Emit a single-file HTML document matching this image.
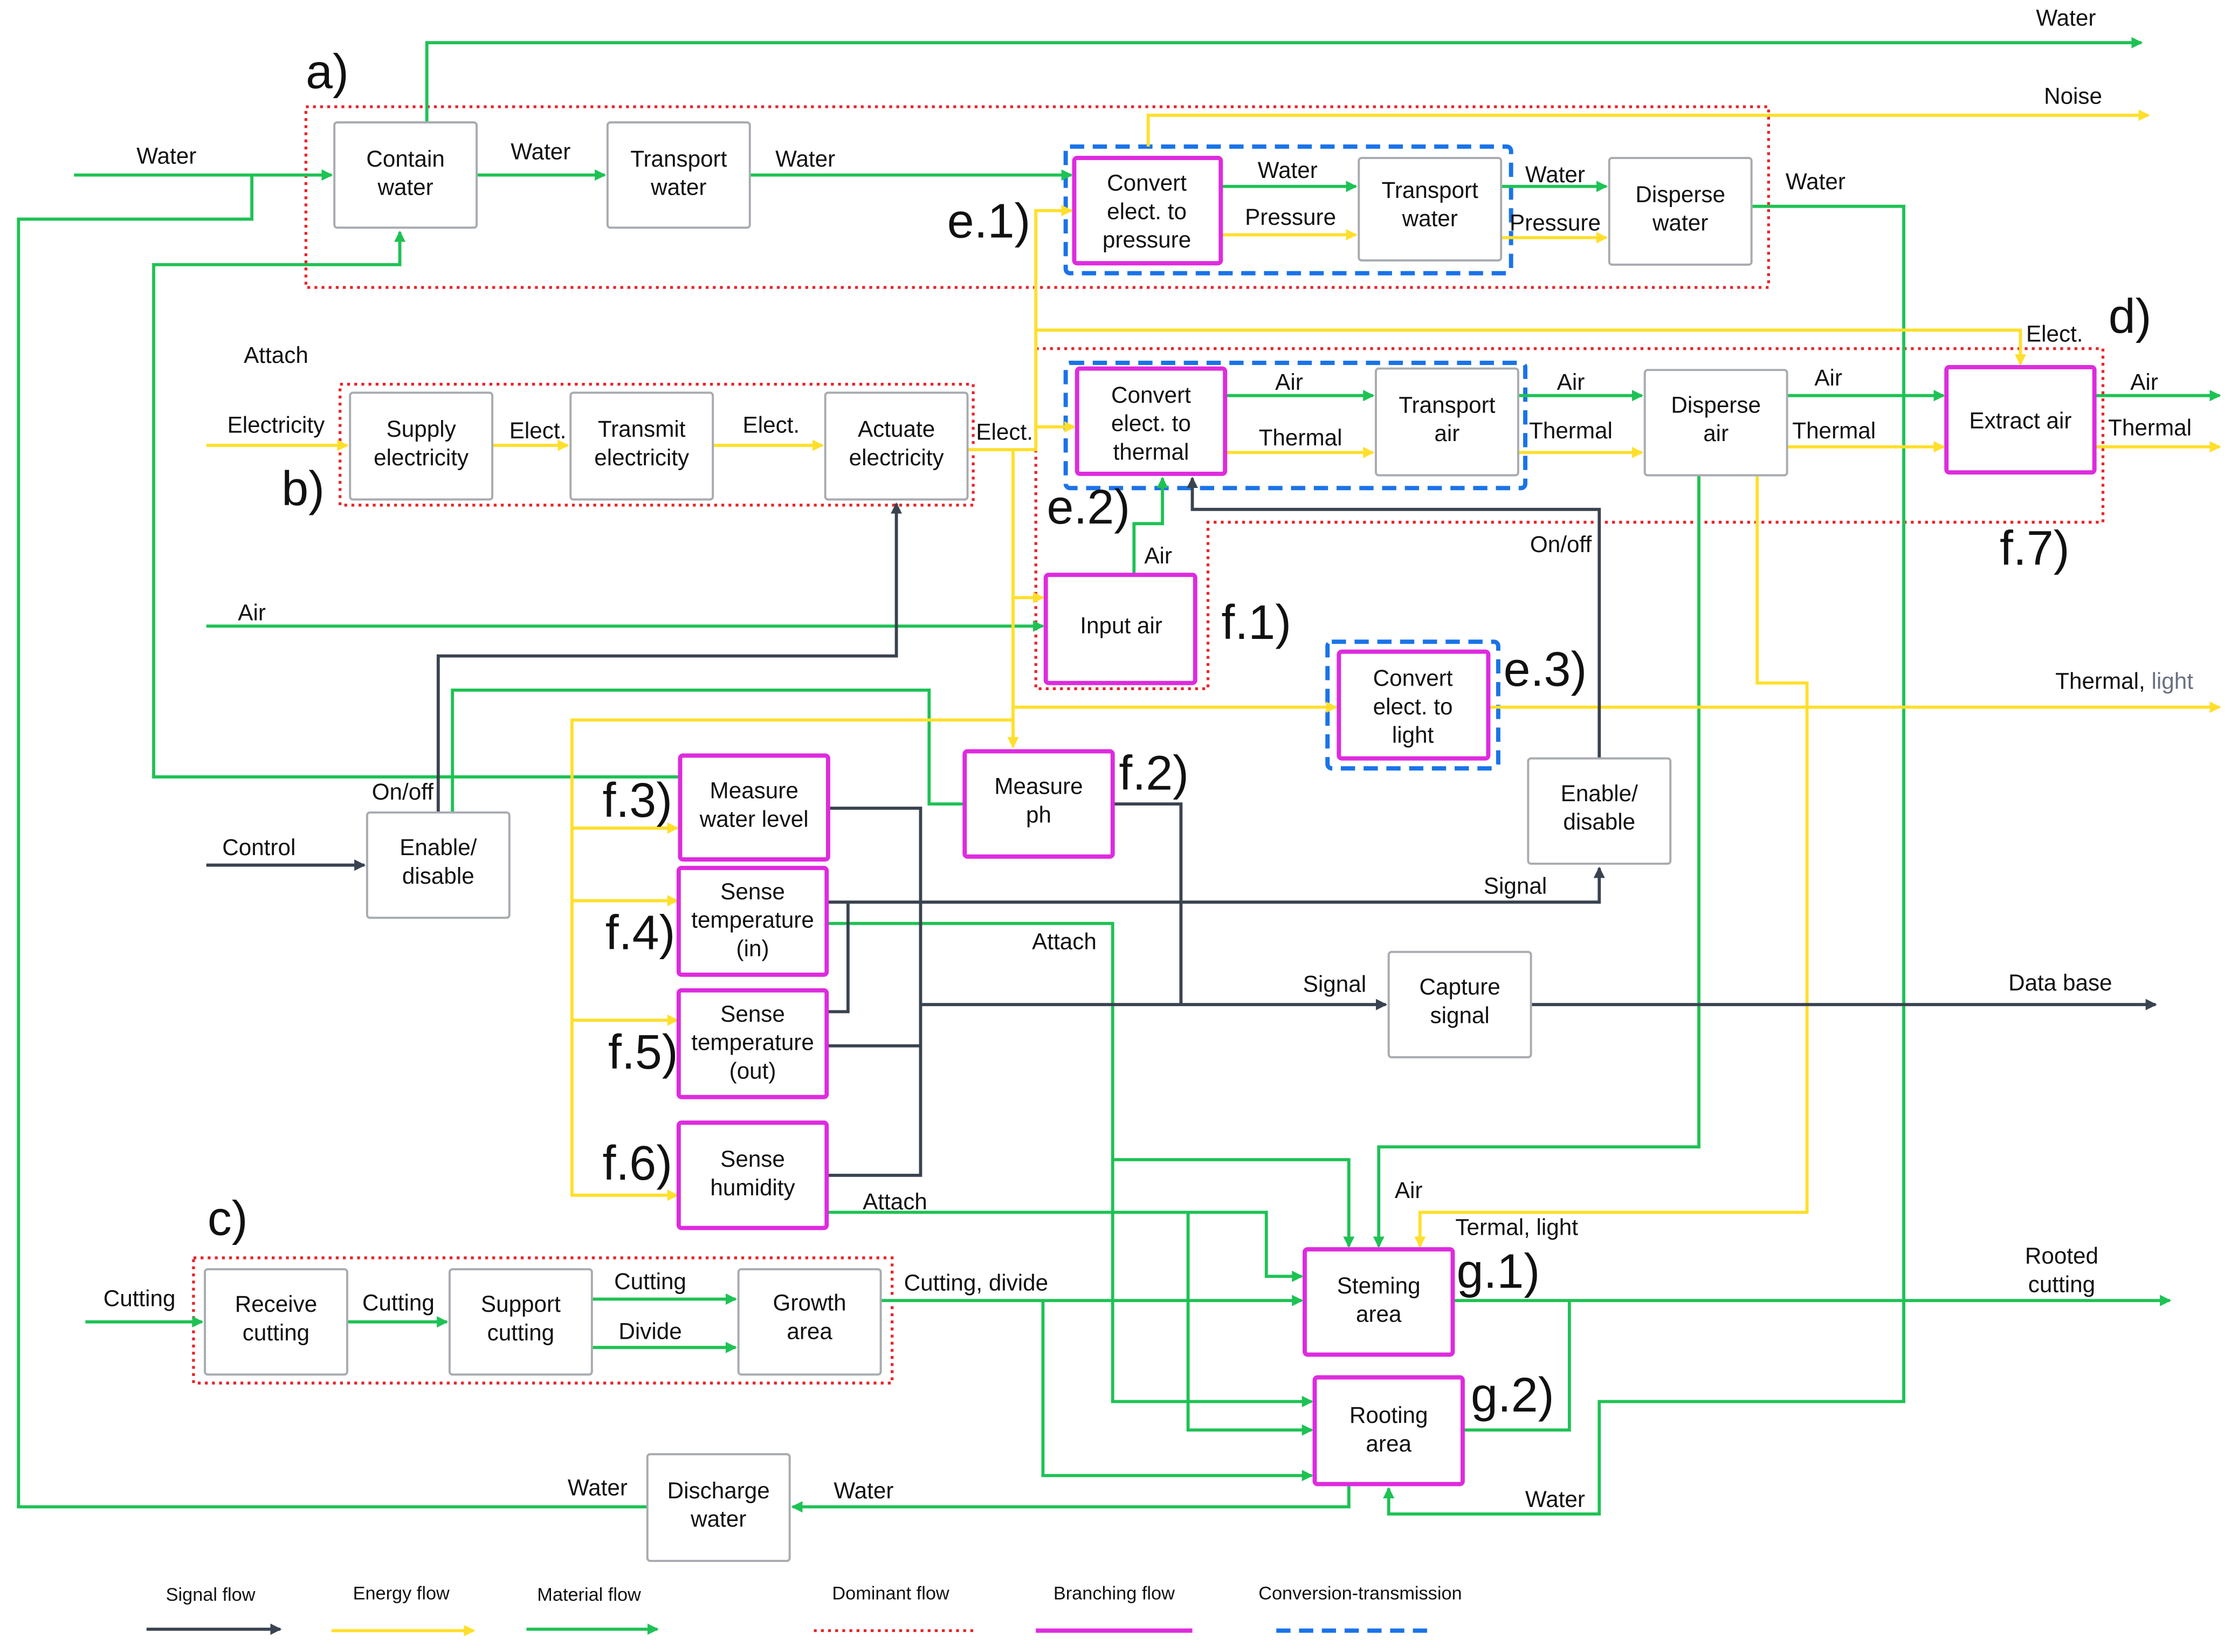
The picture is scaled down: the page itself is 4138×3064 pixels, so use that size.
<!DOCTYPE html>
<html><head><meta charset="utf-8"><style>html,body{margin:0;padding:0;background:#fff}svg{display:block}</style></head><body>
<svg width="4138" height="3064" viewBox="0 0 1568 1161" xmlns="http://www.w3.org/2000/svg" font-family="Liberation Sans, sans-serif">
<defs>
<marker id="ag" markerWidth="8" markerHeight="8" refX="7" refY="4" orient="auto" markerUnits="userSpaceOnUse"><path d="M0,0L8,4L0,8z" fill="#1ec254"/></marker>
<marker id="ay" markerWidth="8" markerHeight="8" refX="7" refY="4" orient="auto" markerUnits="userSpaceOnUse"><path d="M0,0L8,4L0,8z" fill="#ffdf2b"/></marker>
<marker id="ad" markerWidth="8" markerHeight="8" refX="7" refY="4" orient="auto" markerUnits="userSpaceOnUse"><path d="M0,0L8,4L0,8z" fill="#3a4350"/></marker>
</defs>
<rect width="1568" height="1161" fill="#fff"/>
<!-- dotted regions -->
<g fill="none" stroke="#e8242a" stroke-width="2" stroke-dasharray="2,3">
<rect x="215" y="75" width="1028" height="127"/>
<rect x="239" y="270" width="445" height="85"/>
<path d="M728,245H1478V367H849V484H728Z"/>
<rect x="136" y="884" width="491" height="88"/>
</g>
<g fill="none" stroke="#1a73e8" stroke-width="3" stroke-dasharray="10,6">
<rect x="749" y="103" width="313" height="89" rx="3"/>
<rect x="749" y="255" width="323" height="88" rx="3"/>
<rect x="933" y="451" width="120" height="89" rx="3"/>
</g>
<!-- green lines -->
<g fill="none" stroke="#1ec254" stroke-width="2.2">
<path d="M52,123H233" marker-end="url(#ag)"/>
<path d="M177,123V154H13V1059H455"/>
<path d="M300,86V30H1505" marker-end="url(#ag)"/>
<path d="M335,123H425" marker-end="url(#ag)"/>
<path d="M527,123H753" marker-end="url(#ag)"/>
<path d="M858,131H953" marker-end="url(#ag)"/>
<path d="M1055,131H1129" marker-end="url(#ag)"/>
<path d="M1231,145H1338V985H1124V1064H976V1046" marker-end="url(#ag)"/>
<path d="M478,546H108V186H281V163" marker-end="url(#ag)"/>
<path d="M318,571V485H653V565H678"/>
<path d="M145,440H733" marker-end="url(#ag)"/>
<path d="M797,404V368H817V336" marker-end="url(#ag)"/>
<path d="M861,278H965" marker-end="url(#ag)"/>
<path d="M1067,278H1154" marker-end="url(#ag)"/>
<path d="M1256,278H1366" marker-end="url(#ag)"/>
<path d="M1472,278H1560" marker-end="url(#ag)"/>
<path d="M1194,334V806H969V876" marker-end="url(#ag)"/>
<path d="M581,649H782V815H948V876" marker-end="url(#ag)"/>
<path d="M782,815V985H922" marker-end="url(#ag)"/>
<path d="M581,852H890V897H915" marker-end="url(#ag)"/>
<path d="M835,852V1005H922" marker-end="url(#ag)"/>
<path d="M60,929H142" marker-end="url(#ag)"/>
<path d="M244,929H314" marker-end="url(#ag)"/>
<path d="M416,913H517" marker-end="url(#ag)"/>
<path d="M416,947H517" marker-end="url(#ag)"/>
<path d="M619,914H915" marker-end="url(#ag)"/>
<path d="M733,914V1037H922" marker-end="url(#ag)"/>
<path d="M1021,914H1525" marker-end="url(#ag)"/>
<path d="M1103,914V1005H1028"/>
<path d="M948,1043V1059H557" marker-end="url(#ag)"/>
</g>
<!-- yellow -->
<g fill="none" stroke="#ffdf2b" stroke-width="2.2">
<path d="M807,103V81H1510" marker-end="url(#ay)"/>
<path d="M858,165H953" marker-end="url(#ay)"/>
<path d="M1055,167H1129" marker-end="url(#ay)"/>
<path d="M145,313H244" marker-end="url(#ay)"/>
<path d="M346,313H399" marker-end="url(#ay)"/>
<path d="M501,313H578" marker-end="url(#ay)"/>
<path d="M680,316H728V300H755" marker-end="url(#ay)"/>
<path d="M728,300V148H753" marker-end="url(#ay)"/>
<path d="M728,232H1420V256" marker-end="url(#ay)"/>
<path d="M712,316V525" marker-end="url(#ay)"/>
<path d="M712,420H733" marker-end="url(#ay)"/>
<path d="M712,497H939" marker-end="url(#ay)"/>
<path d="M1046,497H1560" marker-end="url(#ay)"/>
<path d="M861,318H965" marker-end="url(#ay)"/>
<path d="M1067,318H1154" marker-end="url(#ay)"/>
<path d="M1256,314H1366" marker-end="url(#ay)"/>
<path d="M1472,314H1560" marker-end="url(#ay)"/>
<path d="M1235,334V480H1270V852H998V876" marker-end="url(#ay)"/>
<path d="M712,506H402V840H476" marker-end="url(#ay)"/>
<path d="M402,582H476" marker-end="url(#ay)"/>
<path d="M402,633H476" marker-end="url(#ay)"/>
<path d="M402,717H476" marker-end="url(#ay)"/>
</g>
<!-- dark -->
<g fill="none" stroke="#3a4350" stroke-width="2.2">
<path d="M145,608H256" marker-end="url(#ad)"/>
<path d="M308,571V461H630V354" marker-end="url(#ad)"/>
<path d="M1124,533V358H838V336" marker-end="url(#ad)"/>
<path d="M582,568H647V826H581"/>
<path d="M647,706H974" marker-end="url(#ad)"/>
<path d="M782,565H830V706"/>
<path d="M581,735H647"/>
<path d="M581,634H1124V610" marker-end="url(#ad)"/>
<path d="M596,634V711H581"/>
<path d="M1076,706H1515" marker-end="url(#ad)"/>
</g>
<!-- boxes -->
<g fill="#fff" stroke="#a8abb0" stroke-width="1.5">
<rect x="235" y="86" width="100" height="74" rx="2"/>
<rect x="427" y="86" width="100" height="74" rx="2"/>
<rect x="955" y="111" width="100" height="72" rx="2"/>
<rect x="1131" y="111" width="100" height="75" rx="2"/>
<rect x="246" y="276" width="100" height="75" rx="2"/>
<rect x="401" y="276" width="100" height="75" rx="2"/>
<rect x="580" y="276" width="100" height="75" rx="2"/>
<rect x="967" y="259" width="100" height="75" rx="2"/>
<rect x="1156" y="260" width="100" height="74" rx="2"/>
<rect x="1074" y="533" width="100" height="74" rx="2"/>
<rect x="258" y="571" width="100" height="74" rx="2"/>
<rect x="976" y="669" width="100" height="74" rx="2"/>
<rect x="144" y="892" width="100" height="74" rx="2"/>
<rect x="316" y="892" width="100" height="74" rx="2"/>
<rect x="519" y="892" width="100" height="74" rx="2"/>
<rect x="455" y="1022" width="100" height="75" rx="2"/>
</g>
<g fill="#fff" stroke="#de2bde" stroke-width="3">
<rect x="755" y="111" width="103" height="74" rx="2"/>
<rect x="757" y="259" width="104" height="74" rx="2"/>
<rect x="1368" y="258" width="104" height="74" rx="2"/>
<rect x="735" y="404" width="105" height="76" rx="2"/>
<rect x="941" y="458" width="105" height="75" rx="2"/>
<rect x="678" y="528" width="104" height="74" rx="2"/>
<rect x="478" y="531" width="104" height="73" rx="2"/>
<rect x="477" y="610" width="104" height="75" rx="2"/>
<rect x="477" y="696" width="104" height="75" rx="2"/>
<rect x="477" y="789" width="104" height="74" rx="2"/>
<rect x="917" y="878" width="104" height="74" rx="2"/>
<rect x="924" y="968" width="104" height="75" rx="2"/>
</g>
<!-- box text -->
<g font-size="16" fill="#111" text-anchor="middle">
<text x="285" y="117">Contain</text><text x="285" y="137">water</text>
<text x="477" y="117">Transport</text><text x="477" y="137">water</text>
<text x="806" y="134">Convert</text><text x="806" y="154">elect. to</text><text x="806" y="174">pressure</text>
<text x="1005" y="139">Transport</text><text x="1005" y="159">water</text>
<text x="1181" y="142">Disperse</text><text x="1181" y="162">water</text>
<text x="296" y="307">Supply</text><text x="296" y="327">electricity</text>
<text x="451" y="307">Transmit</text><text x="451" y="327">electricity</text>
<text x="630" y="307">Actuate</text><text x="630" y="327">electricity</text>
<text x="809" y="283">Convert</text><text x="809" y="303">elect. to</text><text x="809" y="323">thermal</text>
<text x="1017" y="290">Transport</text><text x="1017" y="310">air</text>
<text x="1206" y="290">Disperse</text><text x="1206" y="310">air</text>
<text x="1420" y="301">Extract air</text>
<text x="788" y="445">Input air</text>
<text x="993" y="482">Convert</text><text x="993" y="502">elect. to</text><text x="993" y="522">light</text>
<text x="1124" y="563">Enable/</text><text x="1124" y="583">disable</text>
<text x="730" y="558">Measure</text><text x="730" y="578">ph</text>
<text x="530" y="561">Measure</text><text x="530" y="581">water level</text>
<text x="529" y="632">Sense</text><text x="529" y="652">temperature</text><text x="529" y="672">(in)</text>
<text x="529" y="718">Sense</text><text x="529" y="738">temperature</text><text x="529" y="758">(out)</text>
<text x="529" y="820">Sense</text><text x="529" y="840">humidity</text>
<text x="308" y="601">Enable/</text><text x="308" y="621">disable</text>
<text x="1026" y="699">Capture</text><text x="1026" y="719">signal</text>
<text x="194" y="922">Receive</text><text x="194" y="942">cutting</text>
<text x="366" y="922">Support</text><text x="366" y="942">cutting</text>
<text x="569" y="921">Growth</text><text x="569" y="941">area</text>
<text x="969" y="909">Steming</text><text x="969" y="929">area</text>
<text x="976" y="1000">Rooting</text><text x="976" y="1020">area</text>
<text x="505" y="1053">Discharge</text><text x="505" y="1073">water</text>
</g>
<!-- flow labels -->
<g font-size="16" fill="#111" text-anchor="middle">
<text x="1452" y="18">Water</text><text x="1457" y="73">Noise</text>
<text x="117" y="115">Water</text><text x="380" y="112">Water</text><text x="566" y="117">Water</text>
<text x="905" y="125">Water</text><text x="907" y="158">Pressure</text>
<text x="1093" y="128">Water</text><text x="1093" y="162">Pressure</text><text x="1276" y="133">Water</text>
<text x="194" y="255">Attach</text><text x="194" y="304">Electricity</text>
<text x="378" y="308">Elect.</text><text x="542" y="304">Elect.</text><text x="706" y="309">Elect.</text>
<text x="1444" y="240">Elect.</text>
<text x="906" y="274">Air</text><text x="914" y="313">Thermal</text>
<text x="1104" y="274">Air</text><text x="1104" y="308">Thermal</text>
<text x="1285" y="271">Air</text><text x="1289" y="308">Thermal</text>
<text x="1507" y="274">Air</text><text x="1511" y="306">Thermal</text>
<text x="814" y="396">Air</text><text x="1097" y="388">On/off</text>
<text x="177" y="436">Air</text>
<text x="1493" y="484">Thermal, <tspan fill="#6a7080">light</tspan></text>
<text x="283" y="562">On/off</text><text x="182" y="601">Control</text>
<text x="1065" y="628">Signal</text><text x="748" y="667">Attach</text>
<text x="938" y="697">Signal</text><text x="1448" y="696">Data base</text>
<text x="629" y="850">Attach</text><text x="990" y="842">Air</text><text x="1066" y="868">Termal, light</text>
<text x="98" y="918">Cutting</text><text x="280" y="921">Cutting</text>
<text x="457" y="906">Cutting</text><text x="457" y="941">Divide</text>
<text x="686" y="907">Cutting, divide</text>
<text x="1449" y="888">Rooted</text><text x="1449" y="908">cutting</text>
<text x="420" y="1051">Water</text><text x="607" y="1053">Water</text><text x="1093" y="1059">Water</text>
</g>
<!-- big labels -->
<g font-size="34" fill="#111" text-anchor="middle">
<text x="230" y="62">a)</text><text x="213" y="355">b)</text><text x="160" y="868">c)</text>
<text x="1497" y="234">d)</text><text x="695" y="167">e.1)</text><text x="765" y="368">e.2)</text>
<text x="1086" y="482">e.3)</text><text x="883" y="449">f.1)</text><text x="811" y="555">f.2)</text>
<text x="448" y="574">f.3)</text><text x="450" y="667">f.4)</text><text x="452" y="751">f.5)</text>
<text x="448" y="829">f.6)</text><text x="1430" y="397">f.7)</text>
<text x="1053" y="905">g.1)</text><text x="1063" y="992">g.2)</text>
</g>
<!-- legend -->
<g font-size="13" fill="#111" text-anchor="middle">
<text x="148" y="1125">Signal flow</text><text x="282" y="1124">Energy flow</text>
<text x="414" y="1125">Material flow</text><text x="626" y="1124">Dominant flow</text>
<text x="783" y="1124">Branching flow</text><text x="956" y="1124">Conversion-transmission</text>
</g>
<path d="M103,1145H197" stroke="#3a4350" stroke-width="2.2" marker-end="url(#ad)"/>
<path d="M233,1146H333" stroke="#ffdf2b" stroke-width="2.2" marker-end="url(#ay)"/>
<path d="M370,1145H462" stroke="#1ec254" stroke-width="2.2" marker-end="url(#ag)"/>
<path d="M572,1146H684" stroke="#e8242a" stroke-width="2" stroke-dasharray="2,3"/>
<path d="M728,1146H838" stroke="#de2bde" stroke-width="3"/>
<path d="M897,1146H1008" stroke="#1a73e8" stroke-width="3" stroke-dasharray="10,6"/>
</svg>
</body></html>
